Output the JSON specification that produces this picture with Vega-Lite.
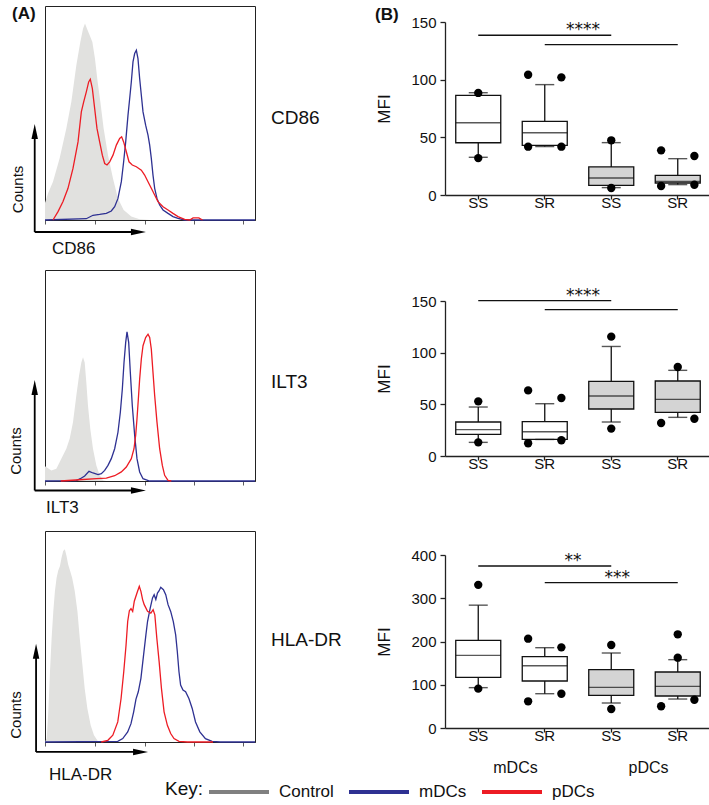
{
  "$schema": "https://vega.github.io/schema/vega-lite/v6.json",
  "autosize": {"type": "pad"},
  "padding": {"left": 8, "top": 4, "right": 0, "bottom": 0},
  "background": "white",
  "config": {
    "font": "Liberation Sans",
    "view": {"stroke": null},
    "axis": {"domainColor": "#222", "tickColor": "#222", "labelColor": "#111", "titleColor": "#111", "grid": false, "labelFont": "Liberation Sans", "titleFont": "Liberation Sans"},
    "text": {"font": "Liberation Sans", "color": "#111"},
    "legend": {"labelFont": "Liberation Sans", "titleFont": "Liberation Sans"}
  },
  "datasets": {
    "hist": [
      {"marker":"CD86","pop":"Control","logFI":0,"count":8},{"marker":"CD86","pop":"Control","logFI":0.057,"count":12.4},{"marker":"CD86","pop":"Control","logFI":0.152,"count":17.9},{"marker":"CD86","pop":"Control","logFI":0.279,"count":28.8},{"marker":"CD86","pop":"Control","logFI":0.406,"count":42.8},{"marker":"CD86","pop":"Control","logFI":0.502,"count":55.2},{"marker":"CD86","pop":"Control","logFI":0.597,"count":72.3},{"marker":"CD86","pop":"Control","logFI":0.673,"count":83.2},{"marker":"CD86","pop":"Control","logFI":0.724,"count":89.4},{"marker":"CD86","pop":"Control","logFI":0.762,"count":91.8},{"marker":"CD86","pop":"Control","logFI":0.8,"count":89.4},{"marker":"CD86","pop":"Control","logFI":0.851,"count":86.3},{"marker":"CD86","pop":"Control","logFI":0.902,"count":83.2},{"marker":"CD86","pop":"Control","logFI":0.952,"count":75.4},{"marker":"CD86","pop":"Control","logFI":1.003,"count":64.5},{"marker":"CD86","pop":"Control","logFI":1.054,"count":55.2},{"marker":"CD86","pop":"Control","logFI":1.117,"count":42.8},{"marker":"CD86","pop":"Control","logFI":1.2,"count":30.3},{"marker":"CD86","pop":"Control","logFI":1.295,"count":19.4},{"marker":"CD86","pop":"Control","logFI":1.39,"count":10.1},{"marker":"CD86","pop":"Control","logFI":1.498,"count":4.7},{"marker":"CD86","pop":"Control","logFI":1.644,"count":1.6},{"marker":"CD86","pop":"Control","logFI":1.803,"count":0.3},{"marker":"CD86","pop":"Control","logFI":2.0,"count":0},
      {"marker":"CD86","pop":"mDCs","logFI":0,"count":0},{"marker":"CD86","pop":"mDCs","logFI":0.787,"count":0.6},{"marker":"CD86","pop":"mDCs","logFI":0.914,"count":2.2},{"marker":"CD86","pop":"mDCs","logFI":1.041,"count":2.6},{"marker":"CD86","pop":"mDCs","logFI":1.168,"count":3.1},{"marker":"CD86","pop":"mDCs","logFI":1.263,"count":4.2},{"marker":"CD86","pop":"mDCs","logFI":1.327,"count":6.2},{"marker":"CD86","pop":"mDCs","logFI":1.39,"count":10.1},{"marker":"CD86","pop":"mDCs","logFI":1.454,"count":17.9},{"marker":"CD86","pop":"mDCs","logFI":1.498,"count":27.2},{"marker":"CD86","pop":"mDCs","logFI":1.537,"count":36.5},{"marker":"CD86","pop":"mDCs","logFI":1.581,"count":49.0},{"marker":"CD86","pop":"mDCs","logFI":1.613,"count":56.8},{"marker":"CD86","pop":"mDCs","logFI":1.644,"count":64.5},{"marker":"CD86","pop":"mDCs","logFI":1.676,"count":73.9},{"marker":"CD86","pop":"mDCs","logFI":1.708,"count":77.8},{"marker":"CD86","pop":"mDCs","logFI":1.74,"count":79.3},{"marker":"CD86","pop":"mDCs","logFI":1.771,"count":75.4},{"marker":"CD86","pop":"mDCs","logFI":1.803,"count":66.1},{"marker":"CD86","pop":"mDCs","logFI":1.835,"count":58.3},{"marker":"CD86","pop":"mDCs","logFI":1.867,"count":50.5},{"marker":"CD86","pop":"mDCs","logFI":1.917,"count":44.3},{"marker":"CD86","pop":"mDCs","logFI":1.962,"count":39.7},{"marker":"CD86","pop":"mDCs","logFI":1.994,"count":35.0},{"marker":"CD86","pop":"mDCs","logFI":2.025,"count":28.8},{"marker":"CD86","pop":"mDCs","logFI":2.057,"count":21.0},{"marker":"CD86","pop":"mDCs","logFI":2.089,"count":14.8},{"marker":"CD86","pop":"mDCs","logFI":2.133,"count":10.1},{"marker":"CD86","pop":"mDCs","logFI":2.184,"count":7.0},{"marker":"CD86","pop":"mDCs","logFI":2.248,"count":4.7},{"marker":"CD86","pop":"mDCs","logFI":2.343,"count":3.1},{"marker":"CD86","pop":"mDCs","logFI":2.438,"count":1.6},{"marker":"CD86","pop":"mDCs","logFI":2.533,"count":0.8},{"marker":"CD86","pop":"mDCs","logFI":2.66,"count":0},{"marker":"CD86","pop":"mDCs","logFI":4,"count":0},
      {"marker":"CD86","pop":"pDCs","logFI":0.152,"count":0},{"marker":"CD86","pop":"pDCs","logFI":0.248,"count":3.9},{"marker":"CD86","pop":"pDCs","logFI":0.343,"count":8.6},{"marker":"CD86","pop":"pDCs","logFI":0.438,"count":14.8},{"marker":"CD86","pop":"pDCs","logFI":0.533,"count":24.1},{"marker":"CD86","pop":"pDCs","logFI":0.629,"count":36.5},{"marker":"CD86","pop":"pDCs","logFI":0.692,"count":50.5},{"marker":"CD86","pop":"pDCs","logFI":0.737,"count":55.2},{"marker":"CD86","pop":"pDCs","logFI":0.787,"count":59.9},{"marker":"CD86","pop":"pDCs","logFI":0.832,"count":64.5},{"marker":"CD86","pop":"pDCs","logFI":0.863,"count":65.8},{"marker":"CD86","pop":"pDCs","logFI":0.902,"count":61.4},{"marker":"CD86","pop":"pDCs","logFI":0.946,"count":52.1},{"marker":"CD86","pop":"pDCs","logFI":0.99,"count":42.8},{"marker":"CD86","pop":"pDCs","logFI":1.041,"count":36.5},{"marker":"CD86","pop":"pDCs","logFI":1.092,"count":30.3},{"marker":"CD86","pop":"pDCs","logFI":1.137,"count":26.4},{"marker":"CD86","pop":"pDCs","logFI":1.181,"count":25.7},{"marker":"CD86","pop":"pDCs","logFI":1.232,"count":27.2},{"marker":"CD86","pop":"pDCs","logFI":1.295,"count":30.3},{"marker":"CD86","pop":"pDCs","logFI":1.359,"count":35.0},{"marker":"CD86","pop":"pDCs","logFI":1.422,"count":38.1},{"marker":"CD86","pop":"pDCs","logFI":1.46,"count":38.9},{"marker":"CD86","pop":"pDCs","logFI":1.498,"count":36.5},{"marker":"CD86","pop":"pDCs","logFI":1.549,"count":31.9},{"marker":"CD86","pop":"pDCs","logFI":1.6,"count":27.2},{"marker":"CD86","pop":"pDCs","logFI":1.663,"count":25.7},{"marker":"CD86","pop":"pDCs","logFI":1.74,"count":24.9},{"marker":"CD86","pop":"pDCs","logFI":1.835,"count":23.3},{"marker":"CD86","pop":"pDCs","logFI":1.898,"count":21.0},{"marker":"CD86","pop":"pDCs","logFI":1.962,"count":17.9},{"marker":"CD86","pop":"pDCs","logFI":2.025,"count":14.8},{"marker":"CD86","pop":"pDCs","logFI":2.089,"count":11.7},{"marker":"CD86","pop":"pDCs","logFI":2.152,"count":8.6},{"marker":"CD86","pop":"pDCs","logFI":2.248,"count":6.2},{"marker":"CD86","pop":"pDCs","logFI":2.343,"count":4.7},{"marker":"CD86","pop":"pDCs","logFI":2.438,"count":3.1},{"marker":"CD86","pop":"pDCs","logFI":2.533,"count":1.6},{"marker":"CD86","pop":"pDCs","logFI":2.66,"count":0.3},{"marker":"CD86","pop":"pDCs","logFI":2.756,"count":0},{"marker":"CD86","pop":"pDCs","logFI":2.82,"count":1.0},{"marker":"CD86","pop":"pDCs","logFI":2.93,"count":1.0},{"marker":"CD86","pop":"pDCs","logFI":3.0,"count":0},
      {"marker":"ILT3","pop":"Control","logFI":0,"count":7},{"marker":"ILT3","pop":"Control","logFI":0.121,"count":5.0},{"marker":"ILT3","pop":"Control","logFI":0.216,"count":5.8},{"marker":"ILT3","pop":"Control","logFI":0.311,"count":10.6},{"marker":"ILT3","pop":"Control","logFI":0.406,"count":15.3},{"marker":"ILT3","pop":"Control","logFI":0.47,"count":20.0},{"marker":"ILT3","pop":"Control","logFI":0.533,"count":27.9},{"marker":"ILT3","pop":"Control","logFI":0.597,"count":40.5},{"marker":"ILT3","pop":"Control","logFI":0.648,"count":49.9},{"marker":"ILT3","pop":"Control","logFI":0.692,"count":56.2},{"marker":"ILT3","pop":"Control","logFI":0.724,"count":58.6},{"marker":"ILT3","pop":"Control","logFI":0.756,"count":56.2},{"marker":"ILT3","pop":"Control","logFI":0.787,"count":46.8},{"marker":"ILT3","pop":"Control","logFI":0.819,"count":35.7},{"marker":"ILT3","pop":"Control","logFI":0.863,"count":24.7},{"marker":"ILT3","pop":"Control","logFI":0.914,"count":15.3},{"marker":"ILT3","pop":"Control","logFI":0.978,"count":7.4},{"marker":"ILT3","pop":"Control","logFI":1.041,"count":2.7},{"marker":"ILT3","pop":"Control","logFI":1.105,"count":0.3},{"marker":"ILT3","pop":"Control","logFI":1.168,"count":0},
      {"marker":"ILT3","pop":"mDCs","logFI":0,"count":0},{"marker":"ILT3","pop":"mDCs","logFI":0.597,"count":0.2},{"marker":"ILT3","pop":"mDCs","logFI":0.673,"count":1.1},{"marker":"ILT3","pop":"mDCs","logFI":0.756,"count":2.4},{"marker":"ILT3","pop":"mDCs","logFI":0.838,"count":4.6},{"marker":"ILT3","pop":"mDCs","logFI":0.914,"count":3.8},{"marker":"ILT3","pop":"mDCs","logFI":1.01,"count":3.0},{"marker":"ILT3","pop":"mDCs","logFI":1.073,"count":3.5},{"marker":"ILT3","pop":"mDCs","logFI":1.137,"count":5.0},{"marker":"ILT3","pop":"mDCs","logFI":1.2,"count":7.4},{"marker":"ILT3","pop":"mDCs","logFI":1.263,"count":10.6},{"marker":"ILT3","pop":"mDCs","logFI":1.327,"count":15.3},{"marker":"ILT3","pop":"mDCs","logFI":1.39,"count":23.1},{"marker":"ILT3","pop":"mDCs","logFI":1.435,"count":32.6},{"marker":"ILT3","pop":"mDCs","logFI":1.473,"count":43.6},{"marker":"ILT3","pop":"mDCs","logFI":1.505,"count":56.2},{"marker":"ILT3","pop":"mDCs","logFI":1.537,"count":65.7},{"marker":"ILT3","pop":"mDCs","logFI":1.562,"count":70.7},{"marker":"ILT3","pop":"mDCs","logFI":1.594,"count":65.7},{"marker":"ILT3","pop":"mDCs","logFI":1.625,"count":51.5},{"marker":"ILT3","pop":"mDCs","logFI":1.663,"count":35.7},{"marker":"ILT3","pop":"mDCs","logFI":1.708,"count":21.6},{"marker":"ILT3","pop":"mDCs","logFI":1.752,"count":10.6},{"marker":"ILT3","pop":"mDCs","logFI":1.803,"count":4.3},{"marker":"ILT3","pop":"mDCs","logFI":1.867,"count":1.1},{"marker":"ILT3","pop":"mDCs","logFI":1.994,"count":0},{"marker":"ILT3","pop":"mDCs","logFI":4,"count":0},
      {"marker":"ILT3","pop":"pDCs","logFI":0.3,"count":0},{"marker":"ILT3","pop":"pDCs","logFI":0.66,"count":0.6},{"marker":"ILT3","pop":"pDCs","logFI":0.978,"count":1.1},{"marker":"ILT3","pop":"pDCs","logFI":1.168,"count":1.4},{"marker":"ILT3","pop":"pDCs","logFI":1.327,"count":2.5},{"marker":"ILT3","pop":"pDCs","logFI":1.454,"count":4.3},{"marker":"ILT3","pop":"pDCs","logFI":1.549,"count":6.6},{"marker":"ILT3","pop":"pDCs","logFI":1.644,"count":10.6},{"marker":"ILT3","pop":"pDCs","logFI":1.695,"count":15.3},{"marker":"ILT3","pop":"pDCs","logFI":1.727,"count":21.6},{"marker":"ILT3","pop":"pDCs","logFI":1.752,"count":29.4},{"marker":"ILT3","pop":"pDCs","logFI":1.778,"count":38.9},{"marker":"ILT3","pop":"pDCs","logFI":1.803,"count":48.3},{"marker":"ILT3","pop":"pDCs","logFI":1.835,"count":57.8},{"marker":"ILT3","pop":"pDCs","logFI":1.867,"count":64.1},{"marker":"ILT3","pop":"pDCs","logFI":1.917,"count":68.0},{"marker":"ILT3","pop":"pDCs","logFI":1.962,"count":69.6},{"marker":"ILT3","pop":"pDCs","logFI":1.994,"count":68.0},{"marker":"ILT3","pop":"pDCs","logFI":2.025,"count":62.5},{"marker":"ILT3","pop":"pDCs","logFI":2.057,"count":51.5},{"marker":"ILT3","pop":"pDCs","logFI":2.089,"count":40.5},{"marker":"ILT3","pop":"pDCs","logFI":2.133,"count":27.9},{"marker":"ILT3","pop":"pDCs","logFI":2.184,"count":15.3},{"marker":"ILT3","pop":"pDCs","logFI":2.235,"count":7.4},{"marker":"ILT3","pop":"pDCs","logFI":2.279,"count":2.7},{"marker":"ILT3","pop":"pDCs","logFI":2.343,"count":0.3},{"marker":"ILT3","pop":"pDCs","logFI":2.406,"count":0},
      {"marker":"HLA-DR","pop":"Control","logFI":0,"count":0},{"marker":"HLA-DR","pop":"Control","logFI":0.032,"count":1.6},{"marker":"HLA-DR","pop":"Control","logFI":0.063,"count":14.3},{"marker":"HLA-DR","pop":"Control","logFI":0.095,"count":33.3},{"marker":"HLA-DR","pop":"Control","logFI":0.126,"count":49.2},{"marker":"HLA-DR","pop":"Control","logFI":0.158,"count":61.9},{"marker":"HLA-DR","pop":"Control","logFI":0.189,"count":71.4},{"marker":"HLA-DR","pop":"Control","logFI":0.221,"count":77.8},{"marker":"HLA-DR","pop":"Control","logFI":0.252,"count":81.3},{"marker":"HLA-DR","pop":"Control","logFI":0.284,"count":83.3},{"marker":"HLA-DR","pop":"Control","logFI":0.315,"count":87.3},{"marker":"HLA-DR","pop":"Control","logFI":0.347,"count":90.5},{"marker":"HLA-DR","pop":"Control","logFI":0.378,"count":91.3},{"marker":"HLA-DR","pop":"Control","logFI":0.41,"count":88.1},{"marker":"HLA-DR","pop":"Control","logFI":0.441,"count":84.1},{"marker":"HLA-DR","pop":"Control","logFI":0.479,"count":81.0},{"marker":"HLA-DR","pop":"Control","logFI":0.517,"count":77.8},{"marker":"HLA-DR","pop":"Control","logFI":0.567,"count":71.4},{"marker":"HLA-DR","pop":"Control","logFI":0.618,"count":61.9},{"marker":"HLA-DR","pop":"Control","logFI":0.662,"count":49.2},{"marker":"HLA-DR","pop":"Control","logFI":0.706,"count":38.1},{"marker":"HLA-DR","pop":"Control","logFI":0.756,"count":25.4},{"marker":"HLA-DR","pop":"Control","logFI":0.807,"count":15.9},{"marker":"HLA-DR","pop":"Control","logFI":0.87,"count":7.9},{"marker":"HLA-DR","pop":"Control","logFI":0.933,"count":3.2},{"marker":"HLA-DR","pop":"Control","logFI":1.008,"count":0.3},{"marker":"HLA-DR","pop":"Control","logFI":1.071,"count":0},
      {"marker":"HLA-DR","pop":"mDCs","logFI":0,"count":0},{"marker":"HLA-DR","pop":"mDCs","logFI":1.386,"count":0.3},{"marker":"HLA-DR","pop":"mDCs","logFI":1.481,"count":1.6},{"marker":"HLA-DR","pop":"mDCs","logFI":1.575,"count":4.8},{"marker":"HLA-DR","pop":"mDCs","logFI":1.638,"count":8.7},{"marker":"HLA-DR","pop":"mDCs","logFI":1.689,"count":14.3},{"marker":"HLA-DR","pop":"mDCs","logFI":1.733,"count":20.3},{"marker":"HLA-DR","pop":"mDCs","logFI":1.777,"count":23.8},{"marker":"HLA-DR","pop":"mDCs","logFI":1.827,"count":30.2},{"marker":"HLA-DR","pop":"mDCs","logFI":1.878,"count":41.3},{"marker":"HLA-DR","pop":"mDCs","logFI":1.922,"count":50.8},{"marker":"HLA-DR","pop":"mDCs","logFI":1.953,"count":57.1},{"marker":"HLA-DR","pop":"mDCs","logFI":2.004,"count":63.5},{"marker":"HLA-DR","pop":"mDCs","logFI":2.048,"count":68.3},{"marker":"HLA-DR","pop":"mDCs","logFI":2.079,"count":69.8},{"marker":"HLA-DR","pop":"mDCs","logFI":2.111,"count":67.5},{"marker":"HLA-DR","pop":"mDCs","logFI":2.142,"count":70.6},{"marker":"HLA-DR","pop":"mDCs","logFI":2.174,"count":71.7},{"marker":"HLA-DR","pop":"mDCs","logFI":2.205,"count":73.3},{"marker":"HLA-DR","pop":"mDCs","logFI":2.256,"count":72.2},{"marker":"HLA-DR","pop":"mDCs","logFI":2.3,"count":69.8},{"marker":"HLA-DR","pop":"mDCs","logFI":2.344,"count":65.1},{"marker":"HLA-DR","pop":"mDCs","logFI":2.394,"count":61.9},{"marker":"HLA-DR","pop":"mDCs","logFI":2.444,"count":57.1},{"marker":"HLA-DR","pop":"mDCs","logFI":2.489,"count":50.8},{"marker":"HLA-DR","pop":"mDCs","logFI":2.52,"count":42.9},{"marker":"HLA-DR","pop":"mDCs","logFI":2.552,"count":33.3},{"marker":"HLA-DR","pop":"mDCs","logFI":2.583,"count":27.0},{"marker":"HLA-DR","pop":"mDCs","logFI":2.628,"count":24.6},{"marker":"HLA-DR","pop":"mDCs","logFI":2.678,"count":23.8},{"marker":"HLA-DR","pop":"mDCs","logFI":2.741,"count":20.6},{"marker":"HLA-DR","pop":"mDCs","logFI":2.804,"count":15.9},{"marker":"HLA-DR","pop":"mDCs","logFI":2.867,"count":9.5},{"marker":"HLA-DR","pop":"mDCs","logFI":2.949,"count":4.8},{"marker":"HLA-DR","pop":"mDCs","logFI":3.056,"count":1.6},{"marker":"HLA-DR","pop":"mDCs","logFI":3.182,"count":0.3},{"marker":"HLA-DR","pop":"mDCs","logFI":3.34,"count":0},{"marker":"HLA-DR","pop":"mDCs","logFI":4,"count":0},
      {"marker":"HLA-DR","pop":"pDCs","logFI":1.071,"count":0},{"marker":"HLA-DR","pop":"pDCs","logFI":1.197,"count":0.8},{"marker":"HLA-DR","pop":"pDCs","logFI":1.292,"count":3.2},{"marker":"HLA-DR","pop":"pDCs","logFI":1.386,"count":9.5},{"marker":"HLA-DR","pop":"pDCs","logFI":1.449,"count":20.6},{"marker":"HLA-DR","pop":"pDCs","logFI":1.5,"count":33.3},{"marker":"HLA-DR","pop":"pDCs","logFI":1.544,"count":46.0},{"marker":"HLA-DR","pop":"pDCs","logFI":1.575,"count":57.1},{"marker":"HLA-DR","pop":"pDCs","logFI":1.607,"count":62.2},{"marker":"HLA-DR","pop":"pDCs","logFI":1.638,"count":63.2},{"marker":"HLA-DR","pop":"pDCs","logFI":1.67,"count":61.9},{"marker":"HLA-DR","pop":"pDCs","logFI":1.701,"count":66.7},{"marker":"HLA-DR","pop":"pDCs","logFI":1.752,"count":70.6},{"marker":"HLA-DR","pop":"pDCs","logFI":1.796,"count":73.8},{"marker":"HLA-DR","pop":"pDCs","logFI":1.827,"count":71.4},{"marker":"HLA-DR","pop":"pDCs","logFI":1.859,"count":67.5},{"marker":"HLA-DR","pop":"pDCs","logFI":1.89,"count":65.1},{"marker":"HLA-DR","pop":"pDCs","logFI":1.953,"count":61.9},{"marker":"HLA-DR","pop":"pDCs","logFI":2.016,"count":61.1},{"marker":"HLA-DR","pop":"pDCs","logFI":2.06,"count":62.7},{"marker":"HLA-DR","pop":"pDCs","logFI":2.092,"count":60.3},{"marker":"HLA-DR","pop":"pDCs","logFI":2.13,"count":49.2},{"marker":"HLA-DR","pop":"pDCs","logFI":2.174,"count":38.1},{"marker":"HLA-DR","pop":"pDCs","logFI":2.218,"count":25.4},{"marker":"HLA-DR","pop":"pDCs","logFI":2.268,"count":14.3},{"marker":"HLA-DR","pop":"pDCs","logFI":2.331,"count":7.9},{"marker":"HLA-DR","pop":"pDCs","logFI":2.394,"count":4.0},{"marker":"HLA-DR","pop":"pDCs","logFI":2.457,"count":1.6},{"marker":"HLA-DR","pop":"pDCs","logFI":2.552,"count":0.3},{"marker":"HLA-DR","pop":"pDCs","logFI":2.71,"count":0},{"marker":"HLA-DR","pop":"pDCs","logFI":3.2,"count":0}
    ],
    "box": [
      {"marker":"CD86","cat":"mDCs SS","group":"mDCs","lo":32.7,"q1":45.3,"med":62.7,"q3":86.4,"hi":88.7},
      {"marker":"CD86","cat":"mDCs SR","group":"mDCs","lo":42,"q1":43,"med":54,"q3":63.9,"hi":95.7},
      {"marker":"CD86","cat":"pDCs SS","group":"pDCs","lo":6.4,"q1":8.4,"med":14.7,"q3":24.3,"hi":45.4},
      {"marker":"CD86","cat":"pDCs SR","group":"pDCs","lo":9,"q1":10.4,"med":11.8,"q3":17.1,"hi":31.5},
      {"marker":"ILT3","cat":"mDCs SS","group":"mDCs","lo":13.2,"q1":21,"med":25.5,"q3":32.9,"hi":47.4},
      {"marker":"ILT3","cat":"mDCs SR","group":"mDCs","lo":16,"q1":16.1,"med":23.5,"q3":33.2,"hi":50.6},
      {"marker":"ILT3","cat":"pDCs SS","group":"pDCs","lo":32.9,"q1":45.5,"med":58,"q3":72.3,"hi":106},
      {"marker":"ILT3","cat":"pDCs SR","group":"pDCs","lo":37.4,"q1":42.3,"med":54.8,"q3":72.6,"hi":82.9},
      {"marker":"HLA-DR","cat":"mDCs SS","group":"mDCs","lo":93.3,"q1":117.1,"med":168,"q3":202.6,"hi":284},
      {"marker":"HLA-DR","cat":"mDCs SR","group":"mDCs","lo":79.3,"q1":108.7,"med":144,"q3":164.9,"hi":185.7},
      {"marker":"HLA-DR","cat":"pDCs SS","group":"pDCs","lo":57.8,"q1":75.5,"med":94,"q3":134.8,"hi":173.4},
      {"marker":"HLA-DR","cat":"pDCs SR","group":"pDCs","lo":67,"q1":74,"med":96.3,"q3":129.5,"hi":158}
    ],
    "pts": [
      {"marker":"CD86","cat":"mDCs SS","side":"C","mfi":88.5},{"marker":"CD86","cat":"mDCs SS","side":"C","mfi":32},
      {"marker":"CD86","cat":"mDCs SR","side":"L","mfi":104.3},{"marker":"CD86","cat":"mDCs SR","side":"R","mfi":102},{"marker":"CD86","cat":"mDCs SR","side":"L","mfi":41.9},{"marker":"CD86","cat":"mDCs SR","side":"R","mfi":41.9},
      {"marker":"CD86","cat":"pDCs SS","side":"C","mfi":47.4},{"marker":"CD86","cat":"pDCs SS","side":"C","mfi":6.1},
      {"marker":"CD86","cat":"pDCs SR","side":"L","mfi":38.7},{"marker":"CD86","cat":"pDCs SR","side":"R","mfi":33.8},{"marker":"CD86","cat":"pDCs SR","side":"L","mfi":7.8},{"marker":"CD86","cat":"pDCs SR","side":"R","mfi":8.9},
      {"marker":"ILT3","cat":"mDCs SS","side":"C","mfi":52.9},{"marker":"ILT3","cat":"mDCs SS","side":"C","mfi":13.2},
      {"marker":"ILT3","cat":"mDCs SR","side":"L","mfi":63.5},{"marker":"ILT3","cat":"mDCs SR","side":"R","mfi":56.1},{"marker":"ILT3","cat":"mDCs SR","side":"L","mfi":12.3},{"marker":"ILT3","cat":"mDCs SR","side":"R","mfi":15.2},
      {"marker":"ILT3","cat":"pDCs SS","side":"C","mfi":115.5},{"marker":"ILT3","cat":"pDCs SS","side":"C","mfi":26.5},
      {"marker":"ILT3","cat":"pDCs SR","side":"C","mfi":86.1},{"marker":"ILT3","cat":"pDCs SR","side":"R","mfi":36.1},{"marker":"ILT3","cat":"pDCs SR","side":"L","mfi":31.9},
      {"marker":"HLA-DR","cat":"mDCs SS","side":"C","mfi":331},{"marker":"HLA-DR","cat":"mDCs SS","side":"C","mfi":91},
      {"marker":"HLA-DR","cat":"mDCs SR","side":"L","mfi":206.5},{"marker":"HLA-DR","cat":"mDCs SR","side":"R","mfi":186.5},{"marker":"HLA-DR","cat":"mDCs SR","side":"R","mfi":79.3},{"marker":"HLA-DR","cat":"mDCs SR","side":"L","mfi":61.7},
      {"marker":"HLA-DR","cat":"pDCs SS","side":"C","mfi":192},{"marker":"HLA-DR","cat":"pDCs SS","side":"C","mfi":44},
      {"marker":"HLA-DR","cat":"pDCs SR","side":"C","mfi":216.6},{"marker":"HLA-DR","cat":"pDCs SR","side":"C","mfi":162.6},{"marker":"HLA-DR","cat":"pDCs SR","side":"R","mfi":65.4},{"marker":"HLA-DR","cat":"pDCs SR","side":"L","mfi":50.2}
    ],
    "sig": [
      {"marker":"CD86","from":"mDCs SS","to":"pDCs SS","val":138.5,"label":"****","labelAt":"pDCs SS"},
      {"marker":"CD86","from":"mDCs SR","to":"pDCs SR","val":130.4,"label":"","labelAt":"pDCs SS"},
      {"marker":"ILT3","from":"mDCs SS","to":"pDCs SS","val":150.3,"label":"****","labelAt":"pDCs SS"},
      {"marker":"ILT3","from":"mDCs SR","to":"pDCs SR","val":141.6,"label":"","labelAt":"pDCs SS"},
      {"marker":"HLA-DR","from":"mDCs SS","to":"pDCs SS","val":374.6,"label":"**","labelAt":"pDCs SS"},
      {"marker":"HLA-DR","from":"mDCs SR","to":"pDCs SR","val":336,"label":"***","labelAt":"pDCs SS"}
    ]
  },
  "columns": 2,
  "bounds": "flush",
  "align": "each",
  "spacing": {"row": 50, "column": 190},
  "resolve": {"scale": {"color": "shared"}, "legend": {"color": "shared"}},
  "concat": [
    {
      "width": 210, "height": 214,
      "view": {"stroke": "#222", "strokeWidth": 1},
      "layer": [
        {"data": {"name": "hist"}, "transform": [{"filter": "datum.marker === 'CD86' && datum.pop === 'Control'"}],
         "mark": {"type": "area", "color": "#e1e1df"},
         "encoding": {
           "x": {"field": "logFI", "type": "quantitative", "scale": {"domain": [0, 4], "nice": false, "zero": false},
                 "axis": {"values": [0,0.301,0.477,0.602,0.699,0.778,0.845,0.903,0.954,1,1.301,1.477,1.602,1.699,1.778,1.845,1.903,1.954,2,2.301,2.477,2.602,2.699,2.778,2.845,2.903,2.954,3,3.301,3.477,3.602,3.699,3.778,3.845,3.903,3.954,4], "labels": false, "title": null, "tickSize": 4, "tickWidth": 0.8, "tickColor": "#333", "domainColor": "#222"}},
           "y": {"field": "count", "type": "quantitative", "scale": {"domain": [0, 100], "nice": false}, "axis": null}
         }},
        {"data": {"name": "hist"}, "transform": [{"filter": "datum.marker === 'CD86' && datum.pop !== 'Control'"}],
         "mark": {"type": "line", "strokeWidth": 1.3},
         "encoding": {
           "x": {"field": "logFI", "type": "quantitative"},
           "y": {"field": "count", "type": "quantitative"},
           "color": {"field": "pop", "type": "nominal", "scale": {"domain": ["Control", "mDCs", "pDCs"], "range": ["#808080", "#2e3192", "#ed1c24"]},
                     "legend": {"orient": "none", "legendX": 120, "legendY": 754, "direction": "horizontal", "title": "Key:", "titleOrient": "left", "titleAnchor": "middle", "titleBaseline": "top", "titleFontSize": 19, "titleFontWeight": "normal", "titleColor": "#111", "titlePadding": 3, "symbolType": "stroke", "symbolSize": 3600, "symbolStrokeWidth": 4, "labelFontSize": 17, "labelOffset": 8, "columnPadding": 7, "labelColor": "#111"}}
         }},
        {"data": {"values": [{}]}, "mark": {"type": "rule", "strokeWidth": 1.8, "color": "#000"},
         "encoding": {"x": {"datum": -0.196}, "y": {"datum": -5.6}, "y2": {"datum": 41.4}}},
        {"data": {"values": [{}]}, "mark": {"type": "rule", "strokeWidth": 1.8, "color": "#000"},
         "encoding": {"x": {"datum": -0.196}, "x2": {"datum": 1.78}, "y": {"datum": -5.6}}},
        {"data": {"values": [{}]}, "mark": {"type": "point", "shape": "M0,-1L0.43,1L-0.43,1Z", "size": 225, "filled": true, "color": "#000", "opacity": 1},
         "encoding": {"x": {"datum": -0.196}, "y": {"datum": 41.4}}},
        {"data": {"values": [{}]}, "mark": {"type": "point", "shape": "M1,0L-1,0.43L-1,-0.43Z", "size": 225, "filled": true, "color": "#000", "opacity": 1},
         "encoding": {"x": {"datum": 1.78}, "y": {"datum": -5.6}}},
        {"data": {"values": [{}]}, "mark": {"type": "text", "text": "Counts", "angle": 270, "fontSize": 15, "align": "center", "baseline": "middle"},
         "encoding": {"x": {"datum": -0.514}, "y": {"datum": 14.3}}},
        {"data": {"values": [{}]}, "mark": {"type": "text", "text": "CD86", "fontSize": 17, "align": "left", "baseline": "middle"},
         "encoding": {"x": {"datum": 0.133}, "y": {"datum": -13.6}}},
        {"data": {"values": [{}]}, "mark": {"type": "text", "text": "CD86", "fontSize": 19, "align": "left", "baseline": "middle"},
         "encoding": {"x": {"datum": 4.305}, "y": {"datum": 47.7}}},
        {"data": {"values": [{}]}, "mark": {"type": "text", "text": "(A)", "fontSize": 17, "fontWeight": "bold", "align": "left", "baseline": "middle"},
         "encoding": {"x": {"datum": -0.629}, "y": {"datum": 96.3}}},
        {"data": {"values": [{}]}, "mark": {"type": "text", "text": "(B)", "fontSize": 17, "fontWeight": "bold", "align": "left", "baseline": "middle"},
         "encoding": {"x": {"datum": 6.286}, "y": {"datum": 96.0}}}
      ]
    },
    {
      "width": 266, "height": 189,
      "layer": [
        {"data": {"name": "box"}, "transform": [{"filter": "datum.marker === 'CD86'"}],
         "mark": {"type": "rule", "color": "#111", "strokeWidth": 1.3},
         "encoding": {
           "x": {"field": "cat", "type": "nominal", "scale": {"domain": ["mDCs SS", "mDCs SR", "pDCs SS", "pDCs SR"], "paddingInner": 0, "paddingOuter": 0},
                 "axis": {"title": null, "labelExpr": "split(datum.label, ' ')[1]", "labelAngle": 0, "labelFontSize": 15, "labelPadding": -4, "tickSize": 4, "tickWidth": 1.3, "domainWidth": 1.3}},
           "y": {"field": "lo", "type": "quantitative", "scale": {"domain": [0, 150], "nice": false, "range": [189, 16]},
                 "axis": {"values": [0, 50, 100, 150], "title": "MFI", "titleFontSize": 17, "titleFontWeight": "normal", "titlePadding": 17, "labelFontSize": 15, "labelPadding": 4, "tickSize": 5, "tickWidth": 1.3, "domainWidth": 1.3}},
           "y2": {"field": "hi"}
         }},
        {"data": {"name": "box"}, "transform": [{"filter": "datum.marker === 'CD86'"}],
         "mark": {"type": "bar", "size": 45, "stroke": "#111", "strokeWidth": 1.3},
         "encoding": {"x": {"field": "cat", "type": "nominal"}, "y": {"field": "q1", "type": "quantitative"}, "y2": {"field": "q3"},
                      "fill": {"field": "group", "type": "nominal", "scale": {"domain": ["mDCs", "pDCs"], "range": ["#ffffff", "#d4d4d4"]}, "legend": null}}},
        {"data": {"name": "box"}, "transform": [{"filter": "datum.marker === 'CD86'"}],
         "mark": {"type": "tick", "size": 45, "thickness": 1.4, "color": "#111"},
         "encoding": {"x": {"field": "cat", "type": "nominal"}, "y": {"field": "med", "type": "quantitative"}}},
        {"data": {"name": "box"}, "transform": [{"filter": "datum.marker === 'CD86'"}],
         "mark": {"type": "tick", "size": 19, "thickness": 1.4, "color": "#111"},
         "encoding": {"x": {"field": "cat", "type": "nominal"}, "y": {"field": "lo", "type": "quantitative"}}},
        {"data": {"name": "box"}, "transform": [{"filter": "datum.marker === 'CD86'"}],
         "mark": {"type": "tick", "size": 19, "thickness": 1.4, "color": "#111"},
         "encoding": {"x": {"field": "cat", "type": "nominal"}, "y": {"field": "hi", "type": "quantitative"}}},
        {"data": {"name": "pts"}, "transform": [{"filter": "datum.marker === 'CD86'"}],
         "mark": {"type": "circle", "size": 70, "color": "#000", "opacity": 1},
         "encoding": {"x": {"field": "cat", "type": "nominal"}, "xOffset": {"field": "side", "type": "nominal", "scale": {"domain": ["L", "C", "R"], "paddingInner": 0, "paddingOuter": 3.6}},
                      "y": {"field": "mfi", "type": "quantitative"}}},
        {"data": {"name": "sig"}, "transform": [{"filter": "datum.marker === 'CD86'"}],
         "mark": {"type": "rule", "color": "#111", "strokeWidth": 1.3},
         "encoding": {"x": {"field": "from", "type": "nominal"}, "x2": {"field": "to"}, "y": {"field": "val", "type": "quantitative"}}},
        {"data": {"name": "sig"}, "transform": [{"filter": "datum.marker === 'CD86' && datum.label !== ''"}],
         "mark": {"type": "text", "font": "DejaVu Sans", "fontSize": 17, "baseline": "alphabetic", "align": "center", "dx": 5},
         "encoding": {"x": {"field": "labelAt", "type": "nominal", "bandPosition": 0}, "y": {"field": "val", "type": "quantitative"}, "text": {"field": "label"}}}
      ]
    },
    {
      "width": 210, "height": 211,
      "view": {"stroke": "#222", "strokeWidth": 1},
      "layer": [
        {"data": {"name": "hist"}, "transform": [{"filter": "datum.marker === 'ILT3' && datum.pop === 'Control'"}],
         "mark": {"type": "area", "color": "#e1e1df"},
         "encoding": {
           "x": {"field": "logFI", "type": "quantitative", "scale": {"domain": [0, 4], "nice": false, "zero": false},
                 "axis": {"values": [0,0.301,0.477,0.602,0.699,0.778,0.845,0.903,0.954,1,1.301,1.477,1.602,1.699,1.778,1.845,1.903,1.954,2,2.301,2.477,2.602,2.699,2.778,2.845,2.903,2.954,3,3.301,3.477,3.602,3.699,3.778,3.845,3.903,3.954,4], "labels": false, "title": null, "tickSize": 4, "tickWidth": 0.8, "tickColor": "#333", "domainColor": "#222"}},
           "y": {"field": "count", "type": "quantitative", "scale": {"domain": [0, 100], "nice": false}, "axis": null}
         }},
        {"data": {"name": "hist"}, "transform": [{"filter": "datum.marker === 'ILT3' && datum.pop !== 'Control'"}],
         "mark": {"type": "line", "strokeWidth": 1.3},
         "encoding": {
           "x": {"field": "logFI", "type": "quantitative"},
           "y": {"field": "count", "type": "quantitative"},
           "color": {"field": "pop", "type": "nominal", "scale": {"domain": ["Control", "mDCs", "pDCs"], "range": ["#808080", "#2e3192", "#ed1c24"]}}
         }},
        {"data": {"values": [{}]}, "mark": {"type": "rule", "strokeWidth": 1.8, "color": "#000"},
         "encoding": {"x": {"datum": -0.196}, "y": {"datum": -4.5}, "y2": {"datum": 44.3}}},
        {"data": {"values": [{}]}, "mark": {"type": "rule", "strokeWidth": 1.8, "color": "#000"},
         "encoding": {"x": {"datum": -0.196}, "x2": {"datum": 1.78}, "y": {"datum": -4.5}}},
        {"data": {"values": [{}]}, "mark": {"type": "point", "shape": "M0,-1L0.43,1L-0.43,1Z", "size": 225, "filled": true, "color": "#000", "opacity": 1},
         "encoding": {"x": {"datum": -0.196}, "y": {"datum": 44.3}}},
        {"data": {"values": [{}]}, "mark": {"type": "point", "shape": "M1,0L-1,0.43L-1,-0.43Z", "size": 225, "filled": true, "color": "#000", "opacity": 1},
         "encoding": {"x": {"datum": 1.78}, "y": {"datum": -4.5}}},
        {"data": {"values": [{}]}, "mark": {"type": "text", "text": "Counts", "angle": 270, "fontSize": 15, "align": "center", "baseline": "middle"},
         "encoding": {"x": {"datum": -0.55}, "y": {"datum": 14.2}}},
        {"data": {"values": [{}]}, "mark": {"type": "text", "text": "ILT3", "fontSize": 17, "align": "left", "baseline": "middle"},
         "encoding": {"x": {"datum": 0.02}, "y": {"datum": -12.8}}},
        {"data": {"values": [{}]}, "mark": {"type": "text", "text": "ILT3", "fontSize": 19, "align": "left", "baseline": "middle"},
         "encoding": {"x": {"datum": 4.305}, "y": {"datum": 46.9}}}
      ]
    },
    {
      "width": 266, "height": 186,
      "layer": [
        {"data": {"name": "box"}, "transform": [{"filter": "datum.marker === 'ILT3'"}],
         "mark": {"type": "rule", "color": "#111", "strokeWidth": 1.3},
         "encoding": {
           "x": {"field": "cat", "type": "nominal", "scale": {"domain": ["mDCs SS", "mDCs SR", "pDCs SS", "pDCs SR"], "paddingInner": 0, "paddingOuter": 0},
                 "axis": {"title": null, "labelExpr": "split(datum.label, ' ')[1]", "labelAngle": 0, "labelFontSize": 15, "labelPadding": -4, "tickSize": 4, "tickWidth": 1.3, "domainWidth": 1.3}},
           "y": {"field": "lo", "type": "quantitative", "scale": {"domain": [0, 150], "nice": false, "range": [186, 31]},
                 "axis": {"values": [0, 50, 100, 150], "title": "MFI", "titleFontSize": 17, "titleFontWeight": "normal", "titlePadding": 17, "labelFontSize": 15, "labelPadding": 4, "tickSize": 5, "tickWidth": 1.3, "domainWidth": 1.3}},
           "y2": {"field": "hi"}
         }},
        {"data": {"name": "box"}, "transform": [{"filter": "datum.marker === 'ILT3'"}],
         "mark": {"type": "bar", "size": 45, "stroke": "#111", "strokeWidth": 1.3},
         "encoding": {"x": {"field": "cat", "type": "nominal"}, "y": {"field": "q1", "type": "quantitative"}, "y2": {"field": "q3"},
                      "fill": {"field": "group", "type": "nominal", "scale": {"domain": ["mDCs", "pDCs"], "range": ["#ffffff", "#d4d4d4"]}, "legend": null}}},
        {"data": {"name": "box"}, "transform": [{"filter": "datum.marker === 'ILT3'"}],
         "mark": {"type": "tick", "size": 45, "thickness": 1.4, "color": "#111"},
         "encoding": {"x": {"field": "cat", "type": "nominal"}, "y": {"field": "med", "type": "quantitative"}}},
        {"data": {"name": "box"}, "transform": [{"filter": "datum.marker === 'ILT3'"}],
         "mark": {"type": "tick", "size": 19, "thickness": 1.4, "color": "#111"},
         "encoding": {"x": {"field": "cat", "type": "nominal"}, "y": {"field": "lo", "type": "quantitative"}}},
        {"data": {"name": "box"}, "transform": [{"filter": "datum.marker === 'ILT3'"}],
         "mark": {"type": "tick", "size": 19, "thickness": 1.4, "color": "#111"},
         "encoding": {"x": {"field": "cat", "type": "nominal"}, "y": {"field": "hi", "type": "quantitative"}}},
        {"data": {"name": "pts"}, "transform": [{"filter": "datum.marker === 'ILT3'"}],
         "mark": {"type": "circle", "size": 70, "color": "#000", "opacity": 1},
         "encoding": {"x": {"field": "cat", "type": "nominal"}, "xOffset": {"field": "side", "type": "nominal", "scale": {"domain": ["L", "C", "R"], "paddingInner": 0, "paddingOuter": 3.6}},
                      "y": {"field": "mfi", "type": "quantitative"}}},
        {"data": {"name": "sig"}, "transform": [{"filter": "datum.marker === 'ILT3'"}],
         "mark": {"type": "rule", "color": "#111", "strokeWidth": 1.3},
         "encoding": {"x": {"field": "from", "type": "nominal"}, "x2": {"field": "to"}, "y": {"field": "val", "type": "quantitative"}}},
        {"data": {"name": "sig"}, "transform": [{"filter": "datum.marker === 'ILT3' && datum.label !== ''"}],
         "mark": {"type": "text", "font": "DejaVu Sans", "fontSize": 17, "baseline": "alphabetic", "align": "center", "dx": 5},
         "encoding": {"x": {"field": "labelAt", "type": "nominal", "bandPosition": 0}, "y": {"field": "val", "type": "quantitative"}, "text": {"field": "label"}}}
      ]
    },
    {
      "width": 210, "height": 211,
      "view": {"stroke": "#222", "strokeWidth": 1},
      "layer": [
        {"data": {"name": "hist"}, "transform": [{"filter": "datum.marker === 'HLA-DR' && datum.pop === 'Control'"}],
         "mark": {"type": "area", "color": "#e1e1df"},
         "encoding": {
           "x": {"field": "logFI", "type": "quantitative", "scale": {"domain": [0, 4], "nice": false, "zero": false},
                 "axis": {"values": [0,0.301,0.477,0.602,0.699,0.778,0.845,0.903,0.954,1,1.301,1.477,1.602,1.699,1.778,1.845,1.903,1.954,2,2.301,2.477,2.602,2.699,2.778,2.845,2.903,2.954,3,3.301,3.477,3.602,3.699,3.778,3.845,3.903,3.954,4], "labels": false, "title": null, "tickSize": 4, "tickWidth": 0.8, "tickColor": "#333", "domainColor": "#222"}},
           "y": {"field": "count", "type": "quantitative", "scale": {"domain": [0, 100], "nice": false}, "axis": null}
         }},
        {"data": {"name": "hist"}, "transform": [{"filter": "datum.marker === 'HLA-DR' && datum.pop !== 'Control'"}],
         "mark": {"type": "line", "strokeWidth": 1.3},
         "encoding": {
           "x": {"field": "logFI", "type": "quantitative"},
           "y": {"field": "count", "type": "quantitative"},
           "color": {"field": "pop", "type": "nominal", "scale": {"domain": ["Control", "mDCs", "pDCs"], "range": ["#808080", "#2e3192", "#ed1c24"]}}
         }},
        {"data": {"values": [{}]}, "mark": {"type": "rule", "strokeWidth": 1.8, "color": "#000"},
         "encoding": {"x": {"datum": -0.17}, "y": {"datum": -4.7}, "y2": {"datum": 43.0}}},
        {"data": {"values": [{}]}, "mark": {"type": "rule", "strokeWidth": 1.8, "color": "#000"},
         "encoding": {"x": {"datum": -0.17}, "x2": {"datum": 1.82}, "y": {"datum": -4.7}}},
        {"data": {"values": [{}]}, "mark": {"type": "point", "shape": "M0,-1L0.43,1L-0.43,1Z", "size": 225, "filled": true, "color": "#000", "opacity": 1},
         "encoding": {"x": {"datum": -0.17}, "y": {"datum": 43.0}}},
        {"data": {"values": [{}]}, "mark": {"type": "point", "shape": "M1,0L-1,0.43L-1,-0.43Z", "size": 225, "filled": true, "color": "#000", "opacity": 1},
         "encoding": {"x": {"datum": 1.82}, "y": {"datum": -4.7}}},
        {"data": {"values": [{}]}, "mark": {"type": "text", "text": "Counts", "angle": 270, "fontSize": 15, "align": "center", "baseline": "middle"},
         "encoding": {"x": {"datum": -0.543}, "y": {"datum": 12.8}}},
        {"data": {"values": [{}]}, "mark": {"type": "text", "text": "HLA-DR", "fontSize": 17, "align": "left", "baseline": "middle"},
         "encoding": {"x": {"datum": 0.076}, "y": {"datum": -15.6}}},
        {"data": {"values": [{}]}, "mark": {"type": "text", "text": "HLA-DR", "fontSize": 19, "align": "left", "baseline": "middle"},
         "encoding": {"x": {"datum": 4.305}, "y": {"datum": 48.3}}}
      ]
    },
    {
      "width": 266, "height": 197,
      "layer": [
        {"data": {"name": "box"}, "transform": [{"filter": "datum.marker === 'HLA-DR'"}],
         "mark": {"type": "rule", "color": "#111", "strokeWidth": 1.3},
         "encoding": {
           "x": {"field": "cat", "type": "nominal", "scale": {"domain": ["mDCs SS", "mDCs SR", "pDCs SS", "pDCs SR"], "paddingInner": 0, "paddingOuter": 0},
                 "axis": {"title": null, "labelExpr": "split(datum.label, ' ')[1]", "labelAngle": 0, "labelFontSize": 15, "labelPadding": -4, "tickSize": 4, "tickWidth": 1.3, "domainWidth": 1.3}},
           "y": {"field": "lo", "type": "quantitative", "scale": {"domain": [0, 400], "nice": false, "range": [197, 24]},
                 "axis": {"values": [0, 100, 200, 300, 400], "title": "MFI", "titleFontSize": 17, "titleFontWeight": "normal", "titlePadding": 17, "labelFontSize": 15, "labelPadding": 4, "tickSize": 5, "tickWidth": 1.3, "domainWidth": 1.3}},
           "y2": {"field": "hi"}
         }},
        {"data": {"name": "box"}, "transform": [{"filter": "datum.marker === 'HLA-DR'"}],
         "mark": {"type": "bar", "size": 45, "stroke": "#111", "strokeWidth": 1.3},
         "encoding": {"x": {"field": "cat", "type": "nominal"}, "y": {"field": "q1", "type": "quantitative"}, "y2": {"field": "q3"},
                      "fill": {"field": "group", "type": "nominal", "scale": {"domain": ["mDCs", "pDCs"], "range": ["#ffffff", "#d4d4d4"]}, "legend": null}}},
        {"data": {"name": "box"}, "transform": [{"filter": "datum.marker === 'HLA-DR'"}],
         "mark": {"type": "tick", "size": 45, "thickness": 1.4, "color": "#111"},
         "encoding": {"x": {"field": "cat", "type": "nominal"}, "y": {"field": "med", "type": "quantitative"}}},
        {"data": {"name": "box"}, "transform": [{"filter": "datum.marker === 'HLA-DR'"}],
         "mark": {"type": "tick", "size": 19, "thickness": 1.4, "color": "#111"},
         "encoding": {"x": {"field": "cat", "type": "nominal"}, "y": {"field": "lo", "type": "quantitative"}}},
        {"data": {"name": "box"}, "transform": [{"filter": "datum.marker === 'HLA-DR'"}],
         "mark": {"type": "tick", "size": 19, "thickness": 1.4, "color": "#111"},
         "encoding": {"x": {"field": "cat", "type": "nominal"}, "y": {"field": "hi", "type": "quantitative"}}},
        {"data": {"name": "pts"}, "transform": [{"filter": "datum.marker === 'HLA-DR'"}],
         "mark": {"type": "circle", "size": 70, "color": "#000", "opacity": 1},
         "encoding": {"x": {"field": "cat", "type": "nominal"}, "xOffset": {"field": "side", "type": "nominal", "scale": {"domain": ["L", "C", "R"], "paddingInner": 0, "paddingOuter": 3.6}},
                      "y": {"field": "mfi", "type": "quantitative"}}},
        {"data": {"name": "sig"}, "transform": [{"filter": "datum.marker === 'HLA-DR'"}],
         "mark": {"type": "rule", "color": "#111", "strokeWidth": 1.3},
         "encoding": {"x": {"field": "from", "type": "nominal"}, "x2": {"field": "to"}, "y": {"field": "val", "type": "quantitative"}}},
        {"data": {"name": "sig"}, "transform": [{"filter": "datum.marker === 'HLA-DR' && datum.label === '**'"}],
         "mark": {"type": "text", "font": "DejaVu Sans", "fontSize": 17, "baseline": "alphabetic", "align": "center", "dx": -5},
         "encoding": {"x": {"field": "labelAt", "type": "nominal", "bandPosition": 0}, "y": {"field": "val", "type": "quantitative"}, "text": {"field": "label"}}},
        {"data": {"name": "sig"}, "transform": [{"filter": "datum.marker === 'HLA-DR' && datum.label === '***'"}],
         "mark": {"type": "text", "font": "DejaVu Sans", "fontSize": 17, "baseline": "alphabetic", "align": "center", "dx": 6},
         "encoding": {"x": {"field": "labelAt", "type": "nominal", "bandPosition": 0.5}, "y": {"field": "val", "type": "quantitative"}, "text": {"field": "label"}}},
        {"data": {"values": [{"cat": "mDCs SR", "label": "mDCs"}, {"cat": "pDCs SR", "label": "pDCs"}]},
         "mark": {"type": "text", "fontSize": 16, "baseline": "middle", "align": "center", "dx": 4},
         "encoding": {"x": {"field": "cat", "type": "nominal", "bandPosition": 0}, "y": {"datum": -92.5}, "text": {"field": "label"}}}
      ]
    }
  ]
}
